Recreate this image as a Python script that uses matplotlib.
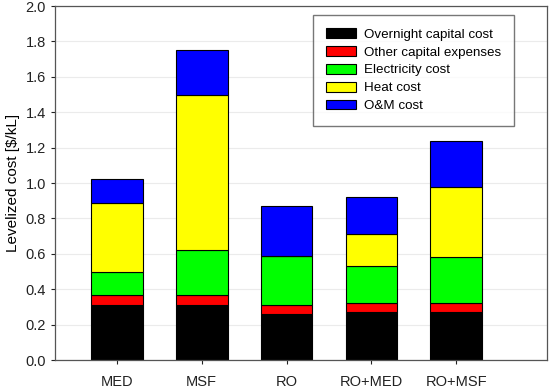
import numpy as np
import matplotlib.pyplot as plt

plt.rcParams['font.family'] = ['Liberation Sans', 'DejaVu Sans']

systems = ['MED', 'MSF', 'RO', 'RO+MED', 'RO+MSF']
overnight = [0.31, 0.31, 0.26, 0.27, 0.27]
other_cap = [0.06, 0.06, 0.05, 0.05, 0.05]
electricity = [0.13, 0.25, 0.28, 0.21, 0.26]
heat = [0.39, 0.88, 0.0, 0.18, 0.40]
om = [0.13, 0.25, 0.28, 0.21, 0.26]

series = [
    ('Overnight capital cost', overnight, '#000000'),
    ('Other capital expenses', other_cap, '#ff0000'),
    ('Electricity cost', electricity, '#00ff00'),
    ('Heat cost', heat, '#ffff00'),
    ('O&M cost', om, '#0000ff'),
]

fig = plt.figure(figsize=(5.5, 3.88), dpi=100)
ax = fig.add_axes([0.1, 0.072, 0.8945, 0.9125])

x = np.arange(len(systems))
bottom = np.zeros(len(systems))
for name, vals, col in series:
    ax.bar(x, vals, 0.61, bottom=bottom, color=col, edgecolor='black',
           linewidth=0.8, label=name, zorder=2)
    bottom += np.array(vals)

ax.set_xlim(-0.73, 5.07)
ax.set_ylim(0, 2.0)
ax.set_yticks(np.arange(0, 2.01, 0.2))
ax.set_yticklabels(['%.1f' % v for v in np.arange(0, 2.01, 0.2)])
ax.set_xticks(x)
ax.set_xticklabels(systems)
ax.yaxis.grid(True, color='#ebebeb', linewidth=0.8, zorder=0)
ax.set_axisbelow(True)
ax.tick_params(direction='out', length=3, width=0.8, labelsize=10.5, colors='#222222')
ax.tick_params(axis='x', pad=8)
for s in ax.spines.values():
    s.set_color('#555555')
    s.set_linewidth(0.9)
ax.set_ylabel('Levelized cost [$/kL]', fontsize=11)

leg = ax.legend(loc='upper right', bbox_to_anchor=(0.933, 0.975), fancybox=False,
                edgecolor='#555555', fontsize=9.6, handlelength=2.25, handleheight=0.75,
                borderpad=1.0, labelspacing=0.4, borderaxespad=0, handletextpad=0.55)
leg.get_frame().set_linewidth(1.0)

fig.savefig('out.png', dpi=100)
